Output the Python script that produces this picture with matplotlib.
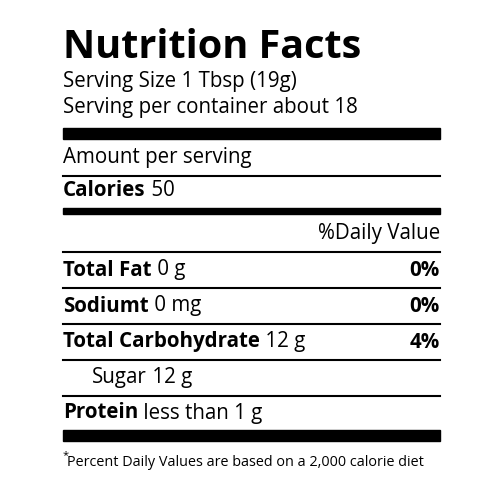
import matplotlib
matplotlib.use("Agg")
import matplotlib.pyplot as plt

plt.rcParams['font.family'] = ['Open Sans', 'DejaVu Sans']

title = "Nutrition Facts"
serving_lines = ["Serving Size 1 Tbsp (19g)", "Serving per container about 18"]
calories = 50
nutrients = ["Total Fat", "Sodiumt", "Total Carbohydrate", "Sugar", "Protein"]
amounts = ["0 g", "0 mg", "12 g", "12 g", "less than 1 g"]
percents = ["0%", "0%", "4%", "", ""]
bold_name = [True, True, True, False, True]
indent = [False, False, False, True, False]

fig = plt.figure(figsize=(5, 5), dpi=100)
ax = fig.add_axes([0, 0, 1, 1])
ax.set_xlim(0, 500); ax.set_ylim(500, 0); ax.axis('off')
L, R = 63, 440
k = 'black'
fs = 14.8

ax.text(L, 47, title, fontsize=28.5, fontweight='bold', va='center', ha='left', color=k)
ax.text(L, 82, serving_lines[0], fontsize=fs, va='center', color=k)
ax.text(L, 107, serving_lines[1], fontsize=fs, va='center', color=k)
ax.add_patch(plt.Rectangle((L, 128), R - L, 11, color=k))
ax.text(L, 158, "Amount per serving", fontsize=fs, va='center', color=k)
ax.plot([L, R], [176, 176], color=k, lw=1.5)
t = ax.text(L, 191, "Calories", fontsize=fs, fontweight='bold', va='center', color=k)
ax.annotate(f" {calories}", xycoords=t, xy=(1, 0.5), va='center', fontsize=fs, color=k)
ax.add_patch(plt.Rectangle((L, 208), R - L, 6, color=k))
ax.text(R, 233, "%Daily Value", fontsize=fs, va='center', ha='right', color=k)
ax.plot([L, R], [252, 252], color=k, lw=1.5)

y = 270
for i, (n, a, p) in enumerate(zip(nutrients, amounts, percents)):
    x = 92 if indent[i] else L
    t = ax.text(x, y, n, fontsize=fs, fontweight='bold' if bold_name[i] else 'normal',
                va='center', color=k)
    ax.annotate(" " + a, xycoords=t, xy=(1, 0.5), va='center', fontsize=fs, color=k)
    if p:
        ax.text(R, y, p, fontsize=fs, fontweight='bold', va='center', ha='right', color=k)
    if i < len(nutrients) - 1:
        ax.plot([L, R], [y + 18, y + 18], color=k, lw=1.5)
    y += 36 if i < 3 else 35

ax.add_patch(plt.Rectangle((L, 430), R - L, 11, color=k))
ax.text(L, 456, "*", fontsize=8, va='center', color=k)
ax.text(L + 4, 462, "Percent Daily Values are based on a 2,000 calorie diet",
        fontsize=10.4, va='center', color=k)

fig.savefig("out.png", dpi=100)
